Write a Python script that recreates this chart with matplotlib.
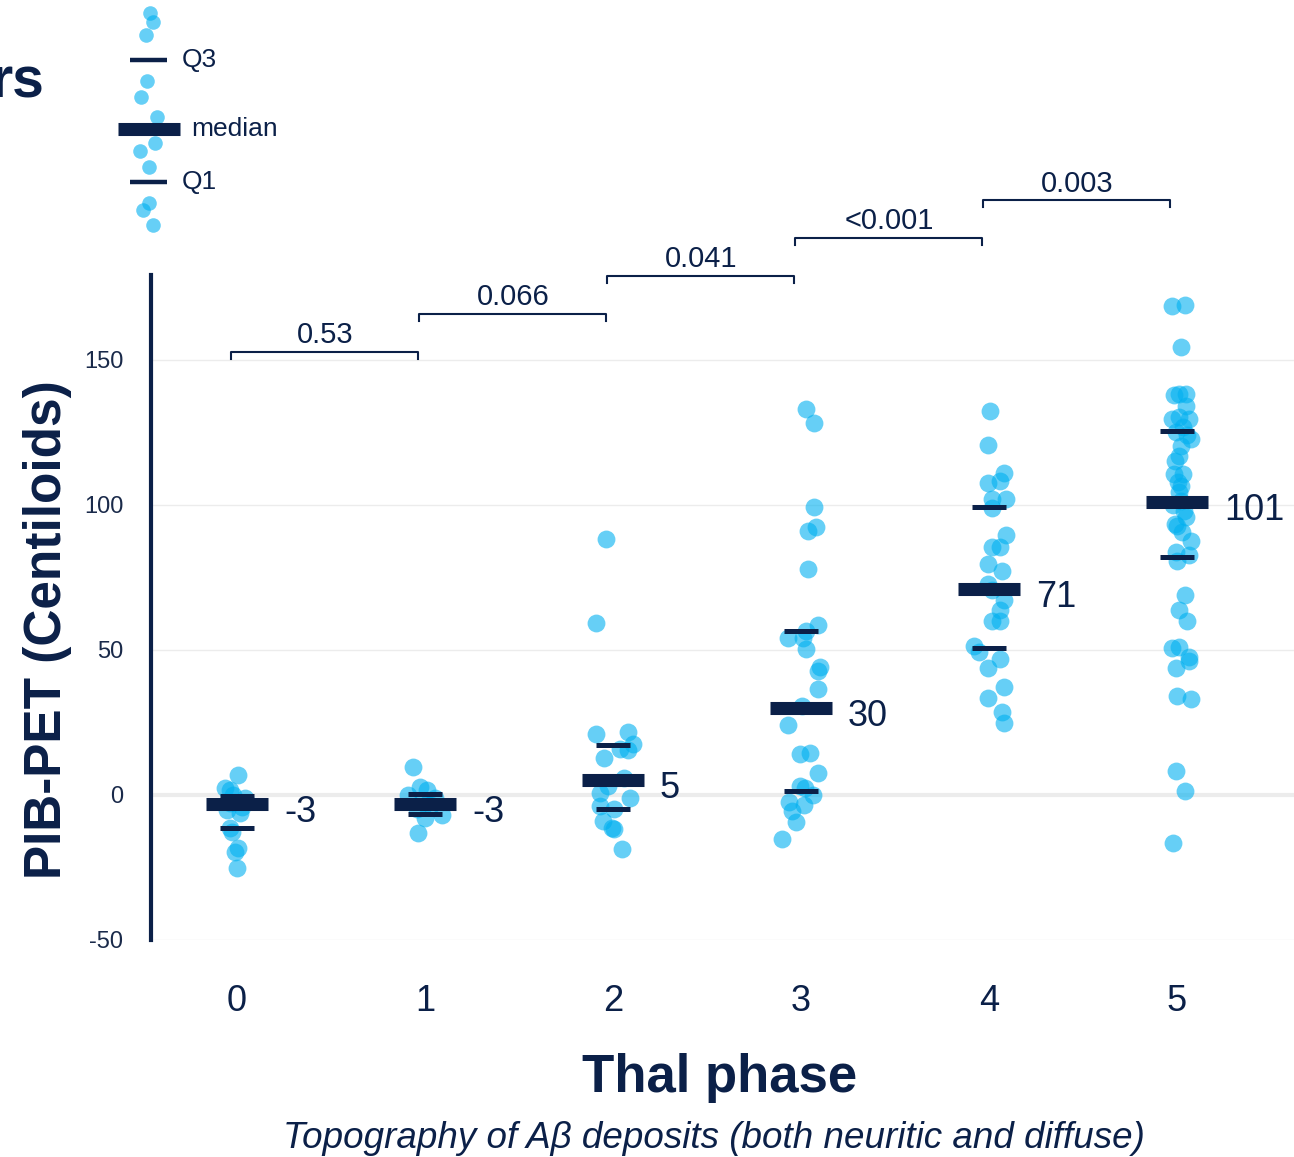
import numpy as np
import matplotlib.pyplot as plt

plt.rcParams['font.family'] = ['Liberation Sans', 'DejaVu Sans']

NAVY = '#0b2048'
DOT = '#00b0f0'

phases = [0, 1, 2, 3, 4, 5]

# PIB-PET centiloid values per Thal phase
cl_0 = [7, 2.4, 1.7, 0, -1, -2.8, -4, -5.2, -6.2, -11.4, -12.7, -18.3, -19.6, -25.2]
cl_1 = [9.7, 2.8, 1.7, 0, -1, -2, -3.5, -5, -6.9, -7.9, -13.1]
cl_2 = [88.3, 59.3, 21, 21.7, 17.6, 15.9, 15.5, 12.8, 5.9, 0.7, -1, 3.1, -3.8, -4.8,
        -9, -11.4, -11.7, -18.6]
cl_3 = [133.1, 128.3, 99.3, 92.4, 91, 77.9, 58.6, 56.6, 54.1, 54.1, 50.3, 44.1, 42.8,
        36.6, 30.7, 24.1, 14.1, 14.5, 7.6, 3.1, 2.4, 0, -2.4, -3.4, -5.5, -9.3, -15.2]
cl_4 = [132.4, 120.7, 111, 107.6, 108.3, 102.1, 102.1, 99, 89.7, 85.5, 85.5, 79.7, 77.2,
        72.8, 70.7, 67.2, 63.8, 60, 60, 51.4, 49.3, 46.9, 43.8, 37.2, 33.4, 28.6, 24.8]
cl_5 = [168.9, 168.5, 154.4, 138.4, 138.4, 137.8, 134, 130.2, 129.6, 129.6, 127, 125.2,
        124, 122.7, 120.2, 117, 115, 110.8, 110.8, 108, 106.4, 104.6, 101.4, 100, 98,
        95.8, 93.5, 92.6, 90.8, 87.6, 83.9, 82.6, 80.7, 69.1, 63.8, 60, 51.2, 50.6, 47.5,
        46.2, 43.7, 34, 33.1, 8.2, 1.3, -16.4]

# horizontal spread of the dots (pixels as seen in the picture)
jit_0 = [1, -12, -7, -4, 8, -7, 5, -10, 3, -7, -5, 1, -2, 0]
jit_1 = [-12, -5, 2, -17, 10, -3, 6, -8, 17, 0, -7]
jit_2 = [-7, -17, -17, 15, 20, 7, 15, -9, 11, -13, 17, -5, -13, 1, -10, -1, 1, 9]
jit_3 = [5, 13, 13, 15, 7, 7, 17, 5, -13, 2, 5, 19, 17, 17, 1, -13, -1, 9, 17, -1, 4,
         12, -12, 3, -9, -5, -19]
jit_4 = [1, -1, 15, -1, 11, 17, 3, 3, 17, 3, 11, -1, 13, -1, 3, 15, 11, 11, 3, -15,
         -10, 11, -1, 15, -1, 13, 15]
jit_5 = [8, -5, 4, 9, 2, -3, 9, 2, -5, 12, 6, -1, 10, 14, 4, 2, -2, -3, 6, 1, 4, 2, 4,
         -4, 7, 9, -2, 0, 5, 14, -1, 12, 0, 8, 2, 10, 2, -5, 12, 12, -1, 0, 14, -1, 8, -4]

values = [cl_0, cl_1, cl_2, cl_3, cl_4, cl_5]
jitter = [jit_0, jit_1, jit_2, jit_3, jit_4, jit_5]

medians = [-3, -3, 5, 30, 71, 101]
q1 = [-11.4, -6.6, -4.8, 1.4, 50.7, 82.2]
q3 = [-0.5, 0.3, 17.2, 56.6, 99.3, 125.6]

p_labels = ['0.53', '0.066', '0.041', '<0.001', '0.003']
p_heights = [152.8, 165.9, 179, 192, 205]

# legend sample
leg_y = [13, 22, 35, 81, 97, 117, 143, 151, 167, 203, 210, 225]
leg_x = [150, 153, 146, 147, 141, 157, 155, 140, 149, 149, 143, 153]
leg_marks = {'Q3': 60, 'median': 129, 'Q1': 182}

W, H = 1294, 1157
fig = plt.figure(figsize=(W / 100, H / 100), dpi=100)

ax = fig.add_axes([151 / W, 1 - 940 / H, 1 - 151 / W, (940 - 275) / H])
ax.set_xlim(-0.457, 5.622)
ax.set_ylim(-50, 179.3)

for g in [-50, 50, 100, 150]:
    ax.axhline(g, color='#ececec', lw=1, zorder=0)
ax.axhline(0, color='#ececec', lw=3, zorder=0)

px = 1 / 188.2
for i, ph in enumerate(phases):
    xs = ph + np.array(jitter[i]) * px
    ax.scatter(xs, values[i], s=165, color=DOT, alpha=0.6, lw=0, zorder=2)
    ax.hlines(medians[i], ph - 0.165, ph + 0.165, color=NAVY, lw=9.4, zorder=3)
    ax.hlines([q1[i], q3[i]], ph - 0.09, ph + 0.09, color=NAVY, lw=3.6, zorder=3)
    ax.text(ph + 0.25, medians[i] - 1.5, str(medians[i]), fontsize=26, color=NAVY,
            va='center_baseline', ha='left', zorder=4)

for i, (lab, hgt) in enumerate(zip(p_labels, p_heights)):
    x0, x1 = phases[i] - 0.03, phases[i + 1] - 0.035
    ax.plot([x0, x0, x1, x1], [hgt - 2.4, hgt, hgt, hgt - 2.4], color=NAVY, lw=1.5,
            clip_on=False)
    ax.text((x0 + x1) / 2, hgt + 1.0, lab, fontsize=21, color=NAVY, ha='center',
            va='bottom', clip_on=False)

for s in ['top', 'right', 'bottom']:
    ax.spines[s].set_visible(False)
ax.spines['left'].set_color(NAVY)
ax.spines['left'].set_linewidth(3)

ax.set_yticks([-50, 0, 50, 100, 150])
ax.set_yticklabels(['-50', '0', '50', '100', '150'], fontsize=17, color='#1a2a4a')
ax.set_xticks(phases)
ax.set_xticklabels([str(p) for p in phases], fontsize=26, color=NAVY)
ax.tick_params(axis='y', length=0, pad=20)
ax.tick_params(axis='x', length=0, pad=32)

fig.text(48 / W, 1 - 630 / H, 'PIB-PET (Centiloids)', fontsize=37, fontweight='bold',
         color=NAVY, rotation=90, ha='center', va='center')
fig.text(720 / W, 1 - 1078 / H, 'Thal phase', fontsize=38, fontweight='bold',
         color=NAVY, ha='center', va='center')
fig.text(714 / W, 1 - 1138 / H,
         'Topography of A\u03b2 deposits (both neuritic and diffuse)',
         fontsize=26.5, style='italic', color=NAVY, ha='center', va='center')

fig.text(44 / W, 1 - 82 / H, 'rs', fontsize=41, fontweight='bold', color=NAVY,
         ha='right', va='center')

# little key at the top
lax = fig.add_axes([0, 1 - 240 / H, 300 / W, 240 / H])
lax.set_xlim(0, 300)
lax.set_ylim(240, 0)
lax.axis('off')
lax.scatter(leg_x, leg_y, s=110, color=DOT, alpha=0.6, lw=0)
for name, yy in leg_marks.items():
    if name == 'median':
        lax.hlines(yy, 118, 180, color=NAVY, lw=9.4)
        lax.text(191, yy, name, fontsize=19, color=NAVY, va='center')
    else:
        lax.hlines(yy, 130, 167, color=NAVY, lw=3.2)
        lax.text(182, yy, name, fontsize=19, color=NAVY, va='center')

fig.savefig('out.png', dpi=100)
